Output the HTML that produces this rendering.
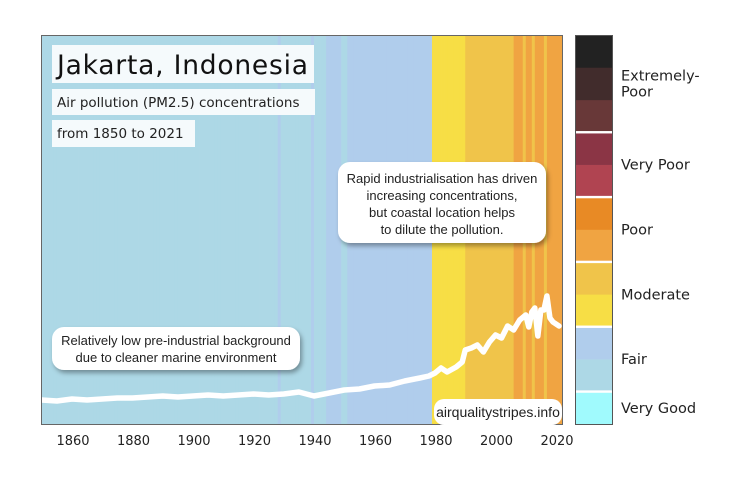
<!DOCTYPE html>
<html><head><meta charset="utf-8"><style>
body{margin:0;background:#fff}
svg{display:block;font-family:"DejaVu Sans","Liberation Sans",sans-serif}
</style></head><body>
<svg id="c" width="754" height="478" viewBox="0 0 754 478">
<defs><filter id="sh" x="-10%" y="-20%" width="130%" height="150%"><feDropShadow dx="2" dy="3" stdDeviation="2.5" flood-color="#000" flood-opacity="0.35"/></filter></defs>
<g id="stripes"></g>
<g id="line"></g>
<rect x="41.5" y="35.5" width="521" height="389" fill="none" stroke="#666"/>
<g id="xaxis"></g>
<g>
<rect x="52" y="45" width="262" height="38" fill="#f5fafc"/>
<text x="57" y="74" font-size="26.5" fill="#111" textLength="251">Jakarta, Indonesia</text>
<rect x="52" y="89" width="263" height="26" fill="#f5fafc"/>
<text x="57" y="107" font-size="13.5" fill="#222">Air pollution (PM2.5) concentrations</text>
<rect x="52" y="120" width="143" height="27" fill="#f5fafc"/>
<text x="57" y="138" font-size="13.5" fill="#222">from 1850 to 2021</text>
</g>
<g font-family="Liberation Sans, sans-serif">
<rect x="52" y="327" width="248" height="43" rx="12" fill="#fff" filter="url(#sh)"/>
<text x="176" y="345" font-size="13" text-anchor="middle" fill="#222">Relatively low pre-industrial background</text>
<text x="176" y="362" font-size="13" text-anchor="middle" fill="#222">due to cleaner marine environment</text>
</g>
<g font-family="Liberation Sans, sans-serif">
<rect x="338" y="162" width="208" height="81" rx="12" fill="#fff" filter="url(#sh)"/>
<text x="442" y="183" font-size="13" text-anchor="middle" fill="#222">Rapid industrialisation has driven</text>
<text x="442" y="200" font-size="13" text-anchor="middle" fill="#222">increasing concentrations,</text>
<text x="442" y="217" font-size="13" text-anchor="middle" fill="#222">but coastal location helps</text>
<text x="442" y="234" font-size="13" text-anchor="middle" fill="#222">to dilute the pollution.</text>
</g>
<g font-family="Liberation Sans, sans-serif">
<rect x="434" y="399" width="128" height="26" rx="10" fill="#fff"/>
<text x="498" y="417" font-size="14" text-anchor="middle" fill="#222">airqualitystripes.info</text>
</g>
<g id="legend"></g>
</svg>
<script>
const years=[1850,1855,1860,1865,1870,1875,1880,1885,1890,1895,1900,1905,1910,1915,1920,1925,1930,1935,1940,1945,1950,1955,1960,1965,1970,1975,1978,1980,1982,1984,1987,1989,1990,1992,1994,1996,1998,2000,2002,2004,2006,2008,2010,2011,2012,2013,2014,2015,2016,2017,2018,2019,2021];
const pm25=[6,5.75,6.25,6,6.25,6.5,6.5,6.75,7,6.75,7,7.25,7,7.25,7.5,7.25,7.5,8,7,7.75,8.5,8.75,9.5,9.75,10.75,11.5,12,12.75,14,13,14.25,15.5,18.5,19,19.75,18,20.5,22.25,21.5,24.5,23.5,26,27.25,24.25,28,29,22,28.5,28.5,32,26.5,25.5,24.5];
const runStart=[1850,1928,1929,1939,1940,1944,1949,1951,1979,1990,2006,2009,2010,2012,2013,2016,2017];
const runCat=[1,2,1,2,1,2,1,2,3,4,5,4,5,4,5,4,5];
const catColors=["#a0fafd","#add8e6","#b0cdec","#f7de45","#f0c44a","#f0a442","#e88a25","#b04451","#8b3545","#683838","#412c2c","#222222"];
const tickYears=[1860,1880,1900,1920,1940,1960,1980,2000,2020];
const legendLabels=["Very Good","Fair","Moderate","Poor","Very Poor","Extremely-\nPoor"];
const legendGroupSize=[1,2,2,2,2,3];
const firstYear=1850,lastYear=2021;
const NS="http://www.w3.org/2000/svg";
const X0=41.75,PXY=3.025,Y0=424,PXV=4;
const xs=y=>X0+(y-firstYear)*PXY;
const ys=v=>Y0-v*PXV;
function mk(t,a,p){const e=document.createElementNS(NS,t);for(const k in a)e.setAttribute(k,a[k]);p.appendChild(e);return e;}
const sg=document.getElementById('stripes');
for(let yr=firstYear;yr<=lastYear;yr++){
  let c=0;for(let i=0;i<runStart.length;i++)if(yr>=runStart[i])c=runCat[i];
  const r=mk('rect',{x:xs(yr),y:35,width:PXY+0.4,height:389,fill:catColors[c]},sg);
  
  
}
const lg=document.getElementById('line');
const p=mk('polyline',{points:years.map((y,i)=>xs(y)+','+ys(pm25[i])).join(' '),fill:'none',stroke:'#fff','stroke-width':5.5,'stroke-linejoin':'round','stroke-linecap':'round'},lg);


const xa=document.getElementById('xaxis');
tickYears.forEach(t=>{
  const tx=mk('text',{x:xs(t)+1,y:445,'font-size':13,'text-anchor':'middle',fill:'#222'},xa);
  tx.textContent=t;
  
  
});
const lgd=document.getElementById('legend');
const segH=389/12;
catColors.forEach((c,i)=>{
  const r=mk('rect',{x:575,y:424-(i+1)*segH,width:38,height:segH+0.3,fill:c},lgd);
  
  
});
let acc=0;
legendLabels.forEach((lab,i)=>{
  const n=legendGroupSize[i];
  const cy=424-(acc+n/2)*segH;
  acc+=n;
  if(i<legendLabels.length-1){
    const l=mk('rect',{x:575,y:424-acc*segH-1.2,width:38,height:2.4,fill:'#fff'},lgd);
    
    
  }
  const parts=lab.split('\n');
  parts.forEach((pt,j)=>{
    const t=mk('text',{x:621,y:cy+5+(j-(parts.length-1)/2)*16,'font-size':14.5,fill:'#222'},lgd);
    t.textContent=pt;
    
    
  });
});
mk('rect',{x:575.5,y:35.5,width:37,height:389,fill:'none',stroke:'#555'},lgd);
</script>
</body></html>
